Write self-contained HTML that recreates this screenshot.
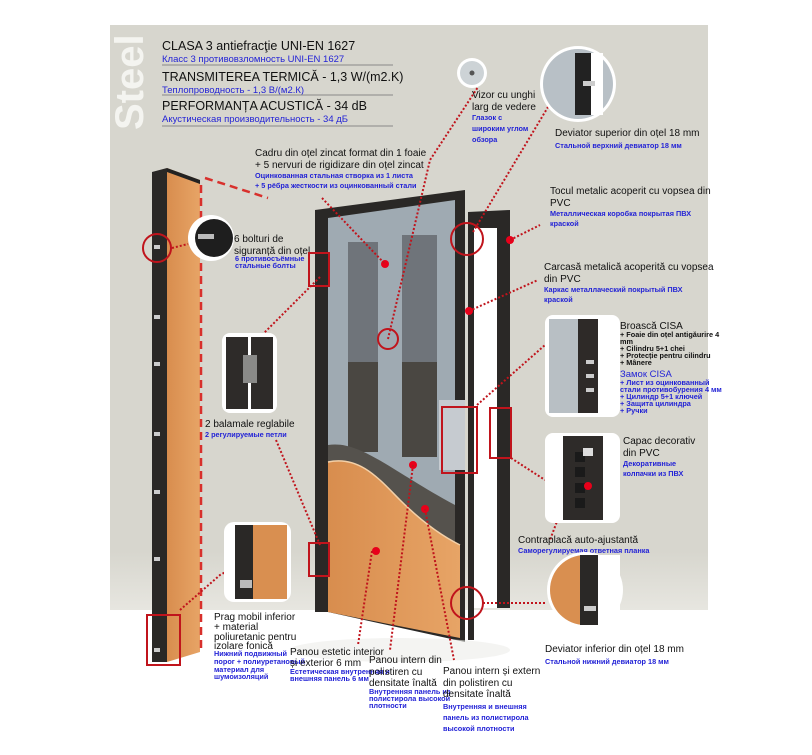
<!DOCTYPE html>
<html><head><meta charset="utf-8"><style>
body{margin:0;background:#fff;}
svg{display:block;font-family:"Liberation Sans",sans-serif;}
.b{fill:#111;font-size:10px;}
.u{fill:#2323d6;font-size:7.3px;font-weight:bold;}
.h{fill:#111;font-size:12.5px;}
.hu{fill:#2323d6;font-size:9.5px;}
.d{stroke:#c0141c;stroke-width:2;stroke-dasharray:2 2;fill:none;}
.dd{stroke:#d8302c;stroke-width:2.5;stroke-dasharray:8 5;fill:none;}
.r{fill:none;stroke:#c0141c;stroke-width:2;}
.dot{fill:#e8001a;}
</style></head><body>
<svg width="812" height="755" viewBox="0 0 812 755">
<defs>
<linearGradient id="bg" x1="0" y1="0" x2="0" y2="1"><stop offset="0.9" stop-color="#d7d6ce"/><stop offset="1" stop-color="#e7e6e0"/></linearGradient>
<linearGradient id="or" x1="0" y1="0" x2="1" y2="0"><stop offset="0" stop-color="#d88d4e"/><stop offset="1" stop-color="#e7a466"/></linearGradient>
</defs>
<rect x="110" y="25" width="598" height="585" fill="url(#bg)"/>
<text transform="translate(143,130) rotate(-90)" font-size="40" font-weight="bold" fill="#f4f4f0">Steel</text>
<!-- header -->
<text x="162" y="50" class="h">CLASA 3 antiefracţie UNI-EN 1627</text>
<text x="162" y="62" class="hu">Класс 3 противовзломность UNI-EN 1627</text>
<line x1="162" y1="65" x2="393" y2="65" stroke="#888"/>
<text x="162" y="81" class="h" font-size="14">TRANSMITEREA TERMICĂ - 1,3 W/(m2.K)</text>
<text x="162" y="93" class="hu">Теплопроводность - 1,3 В/(м2.К)</text>
<line x1="162" y1="95" x2="393" y2="95" stroke="#888"/>
<text x="162" y="110" class="h" font-size="13.5">PERFORMANȚA ACUSTICĂ - 34 dB</text>
<text x="162" y="122" class="hu">Акустическая производительность - 34 дБ</text>
<line x1="162" y1="126" x2="393" y2="126" stroke="#888"/>
<!-- left side door -->
<polygon points="152,172 167,168 167,662 152,662" fill="#2a2826"/>
<polygon points="167,168 200,180 200,652 167,662" fill="url(#or)"/>
<polygon points="167,168 200,180 200,184 167,172" fill="#222"/>
<g fill="#ccc"><rect x="154" y="245" width="6" height="4"/><rect x="154" y="315" width="6" height="4"/><rect x="154" y="362" width="6" height="4"/><rect x="154" y="432" width="6" height="4"/><rect x="154" y="490" width="6" height="4"/><rect x="154" y="557" width="6" height="4"/><rect x="154" y="648" width="6" height="4"/></g>
<line class="dd" x1="201" y1="185" x2="201" y2="650"/>
<line class="dd" x1="205" y1="178" x2="268" y2="198"/>
<circle class="r" cx="157" cy="248" r="14"/>
<line class="d" x1="172" y1="248" x2="188" y2="244"/>
<circle cx="211" cy="238" r="23" fill="#fff"/><circle cx="214" cy="238" r="19" fill="#1e1e1e"/><rect x="198" y="234" width="16" height="5" fill="#bbb"/>
<text x="234" y="242" class="b">6 bolturi de</text><text x="234" y="254" class="b">siguranță din oțel</text>
<text x="235" y="261" class="u" font-size="6">6 противосъёмные</text><text x="235" y="268" class="u" font-size="6">стальные болты</text>
<rect class="r" x="147" y="615" width="33" height="50"/>
<!-- middle door leaf -->
<polygon points="315,210 465,190 465,642 328,612 315,612" fill="#2a2826"/>
<polygon points="328,218 455,200 455,620 328,605" fill="#9faab2"/>
<rect x="348" y="242" width="30" height="120" fill="#6f747a"/><rect x="402" y="235" width="35" height="127" fill="#6f747a"/>
<rect x="348" y="362" width="30" height="90" fill="#4a4742"/><rect x="402" y="362" width="35" height="95" fill="#4a4742"/>
<path d="M328,445 C360,440 390,470 455,505 L455,560 L328,520 Z" fill="#55524d"/>
<path d="M328,462 C360,455 380,480 400,500 C420,520 440,535 460,545 L460,638 L328,612 Z" fill="url(#or)"/>
<path d="M328,462 C360,455 380,480 400,500 C420,520 440,535 460,545" stroke="#f3d0a8" stroke-width="1.5" fill="none"/>
<rect x="439" y="400" width="26" height="70" fill="#c6cbd0"/>
<!-- jamb -->
<polygon points="468,212 510,210 510,608 497,608 497,228 474,228 474,640 468,640" fill="#2a2826"/>
<rect x="474" y="228" width="23" height="380" fill="#fff"/>
<ellipse cx="400" cy="650" rx="110" ry="12" fill="#ececea" opacity="0.6"/>
<!-- markers -->
<rect class="r" x="309" y="253" width="20" height="33"/>
<rect class="r" x="309" y="543" width="20" height="33"/>
<rect class="r" x="442" y="407" width="35" height="66"/>
<rect class="r" x="490" y="408" width="21" height="50"/>
<circle class="r" cx="467" cy="239" r="16"/>
<circle class="r" cx="467" cy="603" r="16"/>
<circle class="r" cx="388" cy="339" r="10"/>
<circle class="dot" cx="385" cy="264" r="4"/><circle class="dot" cx="469" cy="311" r="4"/><circle class="dot" cx="510" cy="240" r="4"/>
<circle class="dot" cx="413" cy="465" r="4"/><circle class="dot" cx="425" cy="509" r="4"/><circle class="dot" cx="376" cy="551" r="4"/>
<!-- dotted connectors -->
<polyline class="d" points="322,198 385,264"/>
<polyline class="d" points="388,339 430,160 478,87"/>
<polyline class="d" points="473,232 548,107"/>
<polyline class="d" points="510,240 540,225"/>
<polyline class="d" points="469,311 538,280"/>
<polyline class="d" points="477,405 545,345"/>
<polyline class="d" points="511,458 545,480"/>
<polyline class="d" points="483,603 546,603"/>
<polyline class="d" points="320,277 262,335"/>
<polyline class="d" points="276,440 320,545"/>
<polyline class="d" points="180,610 220,575 248,560"/>
<polyline class="d" points="372,551 358,645"/>
<polyline class="d" points="413,465 390,650"/>
<polyline class="d" points="425,509 454,660"/>
<polyline class="d" points="565,500 550,540"/>
<polyline class="d" points="580,485 590,470 610,455"/>
<!-- vizor -->
<circle cx="472" cy="73" r="15" fill="#fff"/><circle cx="472" cy="73" r="12" fill="#cdd3d6"/><circle cx="472" cy="73" r="2.5" fill="#555"/>
<text x="472" y="98" class="b">Vizor cu unghi</text><text x="472" y="110" class="b">larg de vedere</text>
<text x="472" y="120" class="u">Глазок с</text><text x="472" y="131" class="u">широким углом</text><text x="472" y="142" class="u">обзора</text>
<!-- deviator superior -->
<circle cx="578" cy="84" r="38" fill="#fff"/><circle cx="578" cy="84" r="35" fill="#b8c0c6"/><rect x="575" y="53" width="16" height="62" fill="#222"/><rect x="591" y="53" width="12" height="62" fill="#fff"/><rect x="583" y="81" width="12" height="5" fill="#ccc"/>
<text x="555" y="136" class="b">Deviator superior din oțel 18 mm</text>
<text x="555" y="148" class="u">Стальной верхний девиатор 18 мм</text>
<!-- cadru -->
<text x="255" y="156" class="b">Cadru din oțel zincat format din 1 foaie</text>
<text x="255" y="168" class="b">+ 5 nervuri de rigidizare din oțel zincat</text>
<text x="255" y="178" class="u">Оцинкованная стальная створка из 1 листа</text>
<text x="255" y="188" class="u">+ 5 рёбра жесткости из оцинкованный стали</text>
<!-- tocul -->
<text x="550" y="194" class="b">Tocul metalic acoperit cu vopsea din</text><text x="550" y="206" class="b">PVC</text>
<text x="550" y="216" class="u">Металлическая коробка покрытая ПВХ</text><text x="550" y="226" class="u">краской</text>
<text x="544" y="270" class="b">Carcasă metalică acoperită cu vopsea</text><text x="544" y="282" class="b">din PVC</text>
<text x="544" y="292" class="u">Каркас металлаческий покрытый ПВХ</text><text x="544" y="302" class="u">краской</text>
<!-- lock -->
<rect x="545" y="315" width="75" height="102" rx="8" fill="#fff"/><rect x="549" y="319" width="32" height="94" fill="#b8bfc4"/><rect x="578" y="319" width="20" height="94" fill="#2e2a28"/>
<g fill="#ccc"><rect x="586" y="360" width="8" height="4"/><rect x="586" y="374" width="8" height="4"/><rect x="586" y="388" width="8" height="4"/></g>
<text x="620" y="329" class="b" font-size="11.5">Broască CISA</text>
<g class="u" font-size="5.5" fill="#111"><text x="620" y="337" fill="#111">+ Foaie din oțel antigăurire 4</text><text x="620" y="344" fill="#111">mm</text><text x="620" y="351" fill="#111">+ Cilindru 5+1 chei</text><text x="620" y="358" fill="#111">+ Protecție pentru cilindru</text><text x="620" y="365" fill="#111">+ Mânere</text></g>
<text x="620" y="377" class="hu" font-size="11.5">Замок CISA</text>
<g class="u" font-size="5.5"><text x="620" y="385">+ Лист из оцинкованный</text><text x="620" y="392">стали противобурения 4 мм</text><text x="620" y="399">+ Цилиндр 5+1 ключей</text><text x="620" y="406">+ Защита цилиндра</text><text x="620" y="413">+ Ручки</text></g>
<!-- capac -->
<rect x="545" y="433" width="75" height="90" rx="8" fill="#fff"/><rect x="563" y="436" width="40" height="84" fill="#2e2b29"/>
<g fill="#1a1a1a"><rect x="575" y="452" width="10" height="10"/><rect x="575" y="467" width="10" height="10"/><rect x="575" y="483" width="10" height="10"/><rect x="575" y="498" width="10" height="10"/></g>
<rect x="583" y="448" width="10" height="8" fill="#ddd"/><circle class="dot" cx="588" cy="486" r="4"/>
<text x="623" y="444" class="b">Capac decorativ</text><text x="623" y="456" class="b">din PVC</text>
<text x="623" y="466" class="u">Декоративные</text><text x="623" y="476" class="u">колпачки из ПВХ</text>
<text x="518" y="543" class="b">Contraplacă auto-ajustantă</text>
<text x="518" y="553" class="u">Саморегулируемая ответная планка</text>
<!-- deviator inferior -->
<circle cx="585" cy="590" r="38" fill="#fff"/><circle cx="585" cy="590" r="35" fill="#d98f50"/><rect x="580" y="555" width="18" height="70" fill="#2a2826"/><rect x="598" y="555" width="22" height="70" fill="#fff"/><rect x="584" y="606" width="12" height="5" fill="#ccc"/>
<text x="545" y="652" class="b">Deviator inferior din oțel 18 mm</text>
<text x="545" y="664" class="u">Стальной нижний девиатор 18 мм</text>
<!-- balamale -->
<rect x="222" y="333" width="55" height="80" rx="8" fill="#fff"/><rect x="226" y="337" width="22" height="72" fill="#2e2b29"/><rect x="251" y="337" width="22" height="72" fill="#2e2b29"/><rect x="243" y="355" width="14" height="28" fill="#8a8a88"/>
<text x="205" y="427" class="b">2 balamale reglabile</text><text x="205" y="437" class="u">2 регулируемые петли</text>
<!-- prag -->
<rect x="224" y="522" width="67" height="80" rx="10" fill="#fff"/><rect x="235" y="525" width="18" height="74" fill="#2a2826"/><rect x="253" y="525" width="34" height="74" fill="#d98f50"/><rect x="240" y="580" width="12" height="8" fill="#bbb"/>
<text x="214" y="620" class="b">Prag mobil inferior</text><text x="214" y="630" class="b">+ material</text><text x="214" y="640" class="b">poliuretanic pentru</text><text x="214" y="649" class="b">izolare fonică</text>
<g class="u" font-size="5.5"><text x="214" y="656">Нижний подвижный</text><text x="214" y="664">порог + полиуретановый</text><text x="214" y="672">материал для</text><text x="214" y="679">шумоизоляций</text></g>
<text x="290" y="655" class="b" font-size="9.5">Panou estetic interior</text><text x="290" y="666" class="b" font-size="9.5">și exterior 6 mm</text>
<g class="u" font-size="5.3"><text x="290" y="674">Естетическая внутренняя и</text><text x="290" y="681">внешняя панель 6 мм</text></g>
<text x="369" y="663" class="b" font-size="9.5">Panou intern din</text><text x="369" y="675" class="b" font-size="9.5">polistiren cu</text><text x="369" y="686" class="b" font-size="9.5">densitate înaltă</text>
<g class="u" font-size="5.5"><text x="369" y="694">Внутренняя панель из</text><text x="369" y="701">полистирола высокой</text><text x="369" y="708">плотности</text></g>
<text x="443" y="674" class="b">Panou intern și extern</text><text x="443" y="686" class="b">din polistiren cu</text><text x="443" y="697" class="b">densitate înaltă</text>
<text x="443" y="709" class="u">Внутренняя и внешняя</text><text x="443" y="720" class="u">панель из полистирола</text><text x="443" y="731" class="u">высокой плотности</text>
</svg>
</body></html>
